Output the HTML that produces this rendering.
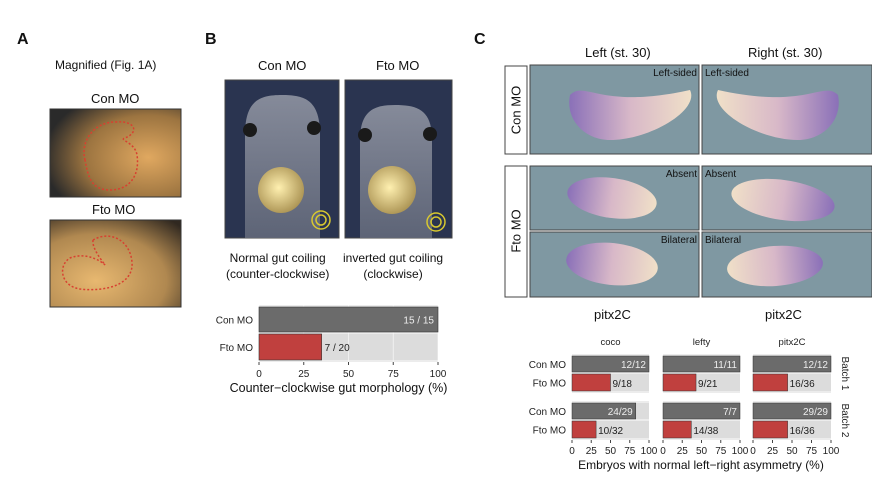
<!DOCTYPE html>
<html><head><meta charset="utf-8"><style>
body{margin:0;width:872px;height:485px;background:#fff;overflow:hidden;font-family:"Liberation Sans",sans-serif;position:relative}
.t{position:absolute;white-space:nowrap;color:#111}
svg{position:absolute;left:0;top:0}
</style></head><body>
<svg width="872" height="485">
<defs>
<radialGradient id="ga1" cx="0.75" cy="0.55" r="0.8"><stop offset="0" stop-color="#e0a860"/><stop offset="0.6" stop-color="#9c7440"/><stop offset="1" stop-color="#2a2a2a"/></radialGradient>
<radialGradient id="ga2" cx="0.35" cy="0.7" r="0.9"><stop offset="0" stop-color="#e8b870"/><stop offset="0.6" stop-color="#b08850"/><stop offset="1" stop-color="#302820"/></radialGradient>
<radialGradient id="gut" cx="0.45" cy="0.45" r="0.6"><stop offset="0" stop-color="#fff0b0"/><stop offset="1" stop-color="#a89050"/></radialGradient>
<linearGradient id="body" x1="0" y1="0" x2="0" y2="1"><stop offset="0" stop-color="#9ca0ac"/><stop offset="1" stop-color="#6a7080"/></linearGradient>
<linearGradient id="emb" x1="0" y1="0" x2="1" y2="0"><stop offset="0" stop-color="#8a70b8"/><stop offset="0.5" stop-color="#d8b8c8"/><stop offset="1" stop-color="#f0e0c8"/></linearGradient>
<linearGradient id="embR" x1="1" y1="0" x2="0" y2="0"><stop offset="0" stop-color="#8a70b8"/><stop offset="0.5" stop-color="#d8b8c8"/><stop offset="1" stop-color="#f0e0c8"/></linearGradient>
</defs>
<g>
<rect x="50" y="109" width="131" height="88" fill="url(#ga1)" stroke="#333"/>
<path d="M85,160 C80,140 95,122 115,122 C135,120 140,132 125,138 C118,140 135,142 137,155 C140,175 130,190 110,190 C90,190 88,175 85,160Z" fill="none" stroke="#d84030" stroke-width="1.5" stroke-dasharray="2,2"/>
</g>
<g>
<rect x="50" y="220" width="131" height="87" fill="url(#ga2)" stroke="#333"/>
<path d="M93,240 C110,230 130,240 132,262 C134,285 105,292 80,289 C60,286 58,265 70,258 C85,252 100,260 105,265 C100,258 92,248 93,240Z" fill="none" stroke="#d84030" stroke-width="1.5" stroke-dasharray="2,2"/>
</g>
<g>
<rect x="225" y="80" width="114" height="158" fill="#2a3450" stroke="#444"/>
<path d="M245,238 L245,135 C245,100 260,95 282,95 C305,95 320,100 320,135 L320,238Z" fill="url(#body)" opacity="0.8"/>
<circle cx="250" cy="130" r="7" fill="#1a1a1a"/><circle cx="314" cy="128" r="7" fill="#1a1a1a"/>
<circle cx="281" cy="190" r="23" fill="url(#gut)"/>
<circle cx="321" cy="220" r="9" fill="none" stroke="#d8c830" stroke-width="1.5"/><circle cx="321" cy="220" r="5" fill="none" stroke="#d8c830" stroke-width="1.5"/>
</g>
<g>
<rect x="345" y="80" width="107" height="158" fill="#2a3450" stroke="#444"/>
<path d="M360,238 L360,140 C360,110 375,105 395,105 C418,105 432,110 432,140 L432,238Z" fill="url(#body)" opacity="0.8"/>
<circle cx="365" cy="135" r="7" fill="#1a1a1a"/><circle cx="430" cy="134" r="7" fill="#1a1a1a"/>
<circle cx="392" cy="190" r="24" fill="url(#gut)"/>
<circle cx="436" cy="222" r="9" fill="none" stroke="#d8c830" stroke-width="1.5"/><circle cx="436" cy="222" r="5" fill="none" stroke="#d8c830" stroke-width="1.5"/>
</g>
<g stroke="#444">
<rect x="530" y="65" width="169" height="89" fill="#7f98a2"/>
<rect x="702" y="65" width="170" height="89" fill="#7f98a2"/>
<rect x="530" y="166" width="169" height="64" fill="#7f98a2"/>
<rect x="702" y="166" width="170" height="64" fill="#7f98a2"/>
<rect x="530" y="232" width="169" height="65" fill="#7f98a2"/>
<rect x="702" y="232" width="170" height="65" fill="#7f98a2"/>
</g>
<g stroke="none">
<path d="M570,95 C585,80 600,110 690,90 C700,110 650,140 610,140 C585,140 565,120 570,95Z" fill="url(#emb)"/>
<path d="M570,95 C585,80 600,110 690,90 C700,110 650,140 610,140 C585,140 565,120 570,95Z" fill="url(#emb)" transform="translate(1408,0) scale(-1,1)"/>
<ellipse cx="612" cy="198" rx="45" ry="20" fill="url(#emb)" transform="rotate(8 612 198)"/>
<ellipse cx="783" cy="200" rx="52" ry="20" fill="url(#embR)" transform="rotate(8 783 200)"/>
<ellipse cx="612" cy="264" rx="46" ry="21" fill="url(#emb)" transform="rotate(6 612 264)"/>
<ellipse cx="775" cy="266" rx="48" ry="20" fill="url(#embR)" transform="rotate(-4 775 266)"/>
</g>
<g fill="#fff" stroke="#444">
<rect x="505" y="66" width="22" height="88"/>
<rect x="505" y="166" width="22" height="131"/>
</g>
<text x="516" y="110" transform="rotate(-90 516 110)" text-anchor="middle" dominant-baseline="central" font-size="13" fill="#111">Con MO</text>
<text x="516" y="231" transform="rotate(-90 516 231)" text-anchor="middle" dominant-baseline="central" font-size="13" fill="#111">Fto MO</text>
<g font-size="10" fill="#111">
<text x="697" y="76" text-anchor="end">Left-sided</text><text x="705" y="76">Left-sided</text>
<text x="697" y="177" text-anchor="end">Absent</text><text x="705" y="177">Absent</text>
<text x="697" y="243" text-anchor="end">Bilateral</text><text x="705" y="243">Bilateral</text>
</g>
<g id="chartB"></g>
<g id="chartC"></g>
</svg>
<div class="t" style="left:17px;top:31px;font-size:16px;font-weight:bold">A</div>
<div class="t" style="left:205px;top:31px;font-size:16px;font-weight:bold">B</div>
<div class="t" style="left:474px;top:31px;font-size:16px;font-weight:bold">C</div>
<div class="t" style="left:55px;top:58px;font-size:12px">Magnified (Fig. 1A)</div>
<div class="t" style="left:91px;top:91px;font-size:13px">Con MO</div>
<div class="t" style="left:92px;top:202px;font-size:13px">Fto MO</div>
<div class="t" style="left:258px;top:58px;font-size:13px">Con MO</div>
<div class="t" style="left:376px;top:58px;font-size:13px">Fto MO</div>
<div class="t" style="left:226px;top:250px;font-size:12px;text-align:center;line-height:16px">Normal gut coiling<br>(counter-clockwise)</div>
<div class="t" style="left:343px;top:250px;font-size:12px;text-align:center;line-height:16px">inverted gut coiling<br>(clockwise)</div>
<div class="t" style="left:585px;top:45px;font-size:13px">Left (st. 30)</div>
<div class="t" style="left:748px;top:45px;font-size:13px">Right (st. 30)</div>
<div class="t" style="left:594px;top:307px;font-size:13px">pitx2C</div>
<div class="t" style="left:765px;top:307px;font-size:13px">pitx2C</div>
<script>
const NS='http://www.w3.org/2000/svg';
function mk(p,tag,a,txt){const e=document.createElementNS(NS,tag);for(const k in a)e.setAttribute(k,a[k]);if(txt!==undefined)e.textContent=txt;p.appendChild(e);return e;}
const bGroups=['Con MO','Fto MO'];
const bValues=[100,35];
const bLabels=['15 / 15','7 / 20'];
const bTicks=[0,25,50,75,100];
const cFacets=['coco','lefty','pitx2C'];
const cBatches=['Batch 1','Batch 2'];
const cCon=[[100,100,100],[82.8,100,100]];
const cFto=[[50,42.9,44.4],[31.3,36.8,44.4]];
const cConLab=[['12/12','11/11','12/12'],['24/29','7/7','29/29']];
const cFtoLab=[['9/18','9/21','16/36'],['10/32','14/38','16/36']];
const cTicks=[0,25,50,75,100];
const GRAY='#6b6b6b',RED='#c0403e',BG='#dcdcdc';
(function(){
 const g=document.getElementById('chartB');
 const x0=259,x1=438,sx=v=>x0+(x1-x0)*v/100;
 const rows=[[307,332],[334,360]];
 const bg=mk(g,'rect',{x:x0,y:305,width:x1-x0,height:57,fill:'#ececec'});
 
 
 bGroups.forEach((n,i)=>{
  const r=mk(g,'rect',{x:x0,y:rows[i][0],width:x1-x0,height:rows[i][1]-rows[i][0],fill:BG});
  
  
 });
 bTicks.forEach(t=>{mk(g,'line',{x1:sx(t),x2:sx(t),y1:305,y2:362,stroke:'#fff','stroke-width':0.8,opacity:0.7});});
 bGroups.forEach((n,i)=>{
  const b=mk(g,'rect',{x:x0,y:rows[i][0],width:sx(bValues[i])-x0,height:rows[i][1]-rows[i][0],fill:i?RED:GRAY,stroke:'#333','stroke-width':0.6});
  
  
  mk(g,'text',{x:x0-6,y:(rows[i][0]+rows[i][1])/2+4,'text-anchor':'end','font-size':10,fill:'#222'},n);
  if(i==0) mk(g,'text',{x:sx(bValues[i])-4,y:(rows[i][0]+rows[i][1])/2+4,'text-anchor':'end','font-size':10,fill:'#eee'},bLabels[i]);
  else mk(g,'text',{x:sx(bValues[i])+3,y:(rows[i][0]+rows[i][1])/2+4,'font-size':10,fill:'#222'},bLabels[i]);
 });
 bTicks.forEach(t=>{mk(g,'line',{x1:sx(t),x2:sx(t),y1:362,y2:365,stroke:'#444'});mk(g,'text',{x:sx(t),y:377,'text-anchor':'middle','font-size':10,fill:'#222'},t);});
 const tt=mk(g,'text',{x:(x0+x1)/2-10,y:392,'text-anchor':'middle','font-size':12.5,fill:'#111'},'Counter\u2212clockwise gut morphology (%)');
 
 
})();
(function(){
 const g=document.getElementById('chartC');
 const fx=[[572,649],[663,740],[753,831]];
 const rowY=[[[356,372],[374,391]],[[403,419],[421,438]]];
 const panY=[[354,393],[401,440]];
 cFacets.forEach((f,j)=>{
  const [a,b]=fx[j],sx=v=>a+(b-a)*v/100;
  mk(g,'text',{x:(a+b)/2,y:345,'text-anchor':'middle','font-size':9.5,fill:'#222'},f);
  cBatches.forEach((bt,k)=>{
   mk(g,'rect',{x:a,y:panY[k][0],width:b-a,height:panY[k][1]-panY[k][0],fill:'#ececec'});
   [[cCon,cConLab,GRAY],[cFto,cFtoLab,RED]].forEach(([vals,labs,col],i)=>{
    const [y0,y1]=rowY[k][i];
    mk(g,'rect',{x:a,y:y0,width:b-a,height:y1-y0,fill:BG});
    const r=mk(g,'rect',{x:a,y:y0,width:sx(vals[k][j])-a,height:y1-y0,fill:col,stroke:'#333','stroke-width':0.5});
    
    
    if(i==0) mk(g,'text',{x:sx(vals[k][j])-3,y:y1-4,'text-anchor':'end','font-size':10,fill:'#eee'},labs[k][j]);
    else mk(g,'text',{x:sx(vals[k][j])+2,y:y1-4,'font-size':10,fill:'#222'},labs[k][j]);
   });
  });
  cTicks.forEach(t=>{mk(g,'line',{x1:sx(t),x2:sx(t),y1:440,y2:443,stroke:'#444'});mk(g,'text',{x:sx(t),y:454,'text-anchor':'middle','font-size':10,fill:'#222'},t);});
 });
 cBatches.forEach((bt,k)=>{
  ['Con MO','Fto MO'].forEach((n,i)=>{const [y0,y1]=rowY[k][i];mk(g,'text',{x:566,y:(y0+y1)/2+4,'text-anchor':'end','font-size':10,fill:'#222'},n);});
  const cy=(panY[k][0]+panY[k][1])/2;
  mk(g,'text',{x:842,y:cy,transform:`rotate(90 842 ${cy})`,'text-anchor':'middle','font-size':10,fill:'#222'},bt);
 });
 const tt=mk(g,'text',{x:701,y:469,'text-anchor':'middle','font-size':12,fill:'#111'},'Embryos with normal left\u2212right asymmetry (%)');
 
 
})();
</script>
</body></html>
